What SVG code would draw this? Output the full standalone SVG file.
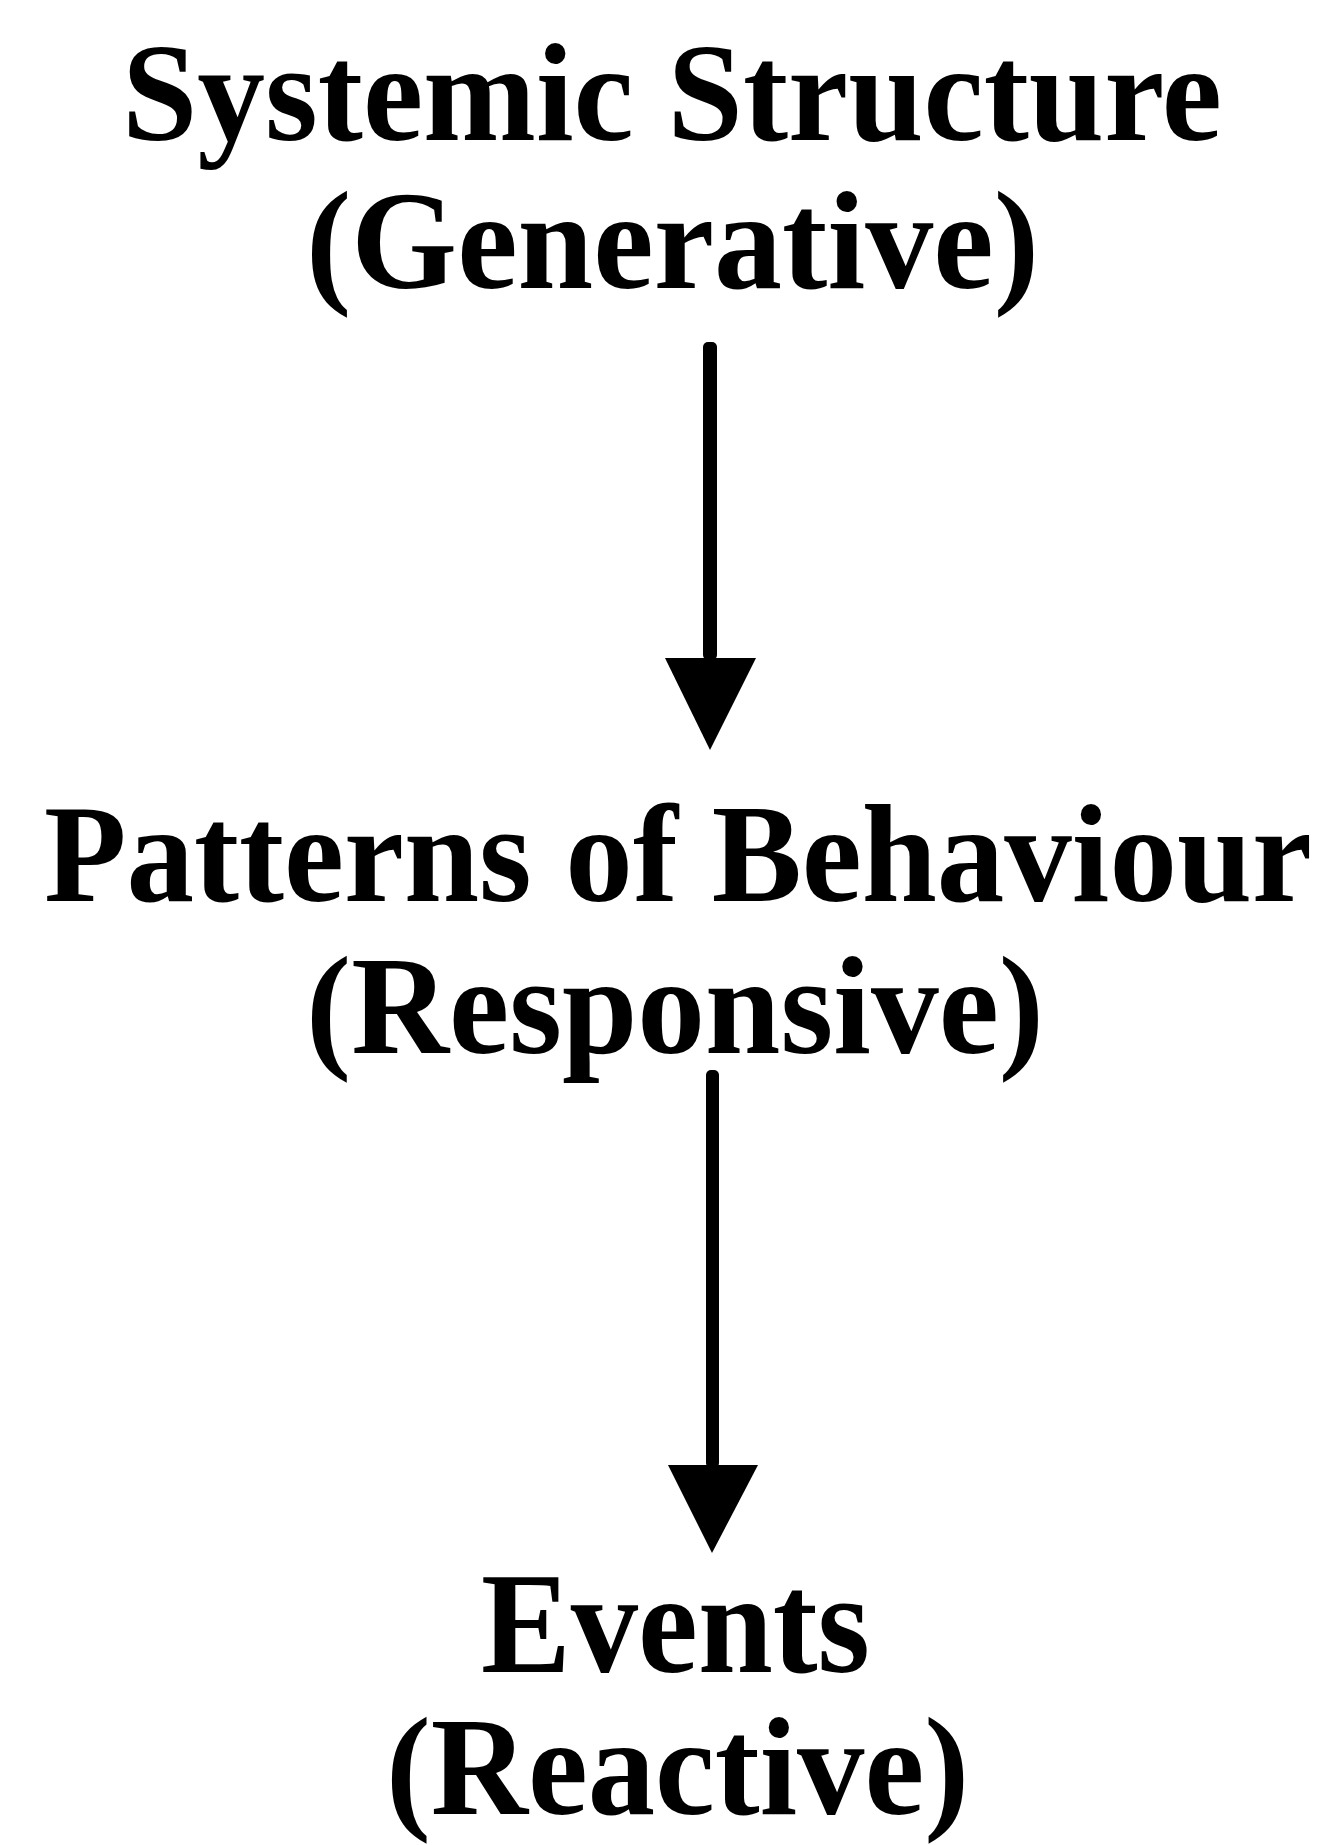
<svg xmlns="http://www.w3.org/2000/svg" width="1323" height="1845" viewBox="0 0 1323 1845">
<style>
.t{font-family:"Liberation Serif","Times New Roman",serif;font-weight:bold;font-size:140px;fill:#000}
</style>
<rect width="1323" height="1845" fill="#fff"/>
<g id="node-systemic">
<text class="t" x="122" y="140" textLength="1100" lengthAdjust="spacingAndGlyphs">Systemic Structure</text>
<text class="t" x="306" y="288" textLength="733" lengthAdjust="spacingAndGlyphs">(Generative)</text>
</g>
<g id="node-patterns">
<text class="t" transform="translate(44,901) scale(1,1.037)" x="0" y="0" style="font-size:135px" textLength="1268" lengthAdjust="spacingAndGlyphs">Patterns of Behaviour</text>
<text class="t" x="306" y="1053" textLength="738" lengthAdjust="spacingAndGlyphs">(Responsive)</text>
</g>
<g id="node-events">
<text class="t" x="481" y="1672" style="font-size:143px" textLength="389" lengthAdjust="spacingAndGlyphs">Events</text>
<text class="t" x="386" y="1814" textLength="583" lengthAdjust="spacingAndGlyphs">(Reactive)</text>
</g>
<g id="connectors" fill="#000" stroke="none">
<rect x="703" y="342" width="14" height="318" rx="5"/>
<path d="M665,658 L756,658 L710,750 Z"/>
<rect x="706" y="1070" width="13" height="398" rx="5"/>
<path d="M668,1465 L758,1465 L712,1553 Z"/>
</g>
</svg>
